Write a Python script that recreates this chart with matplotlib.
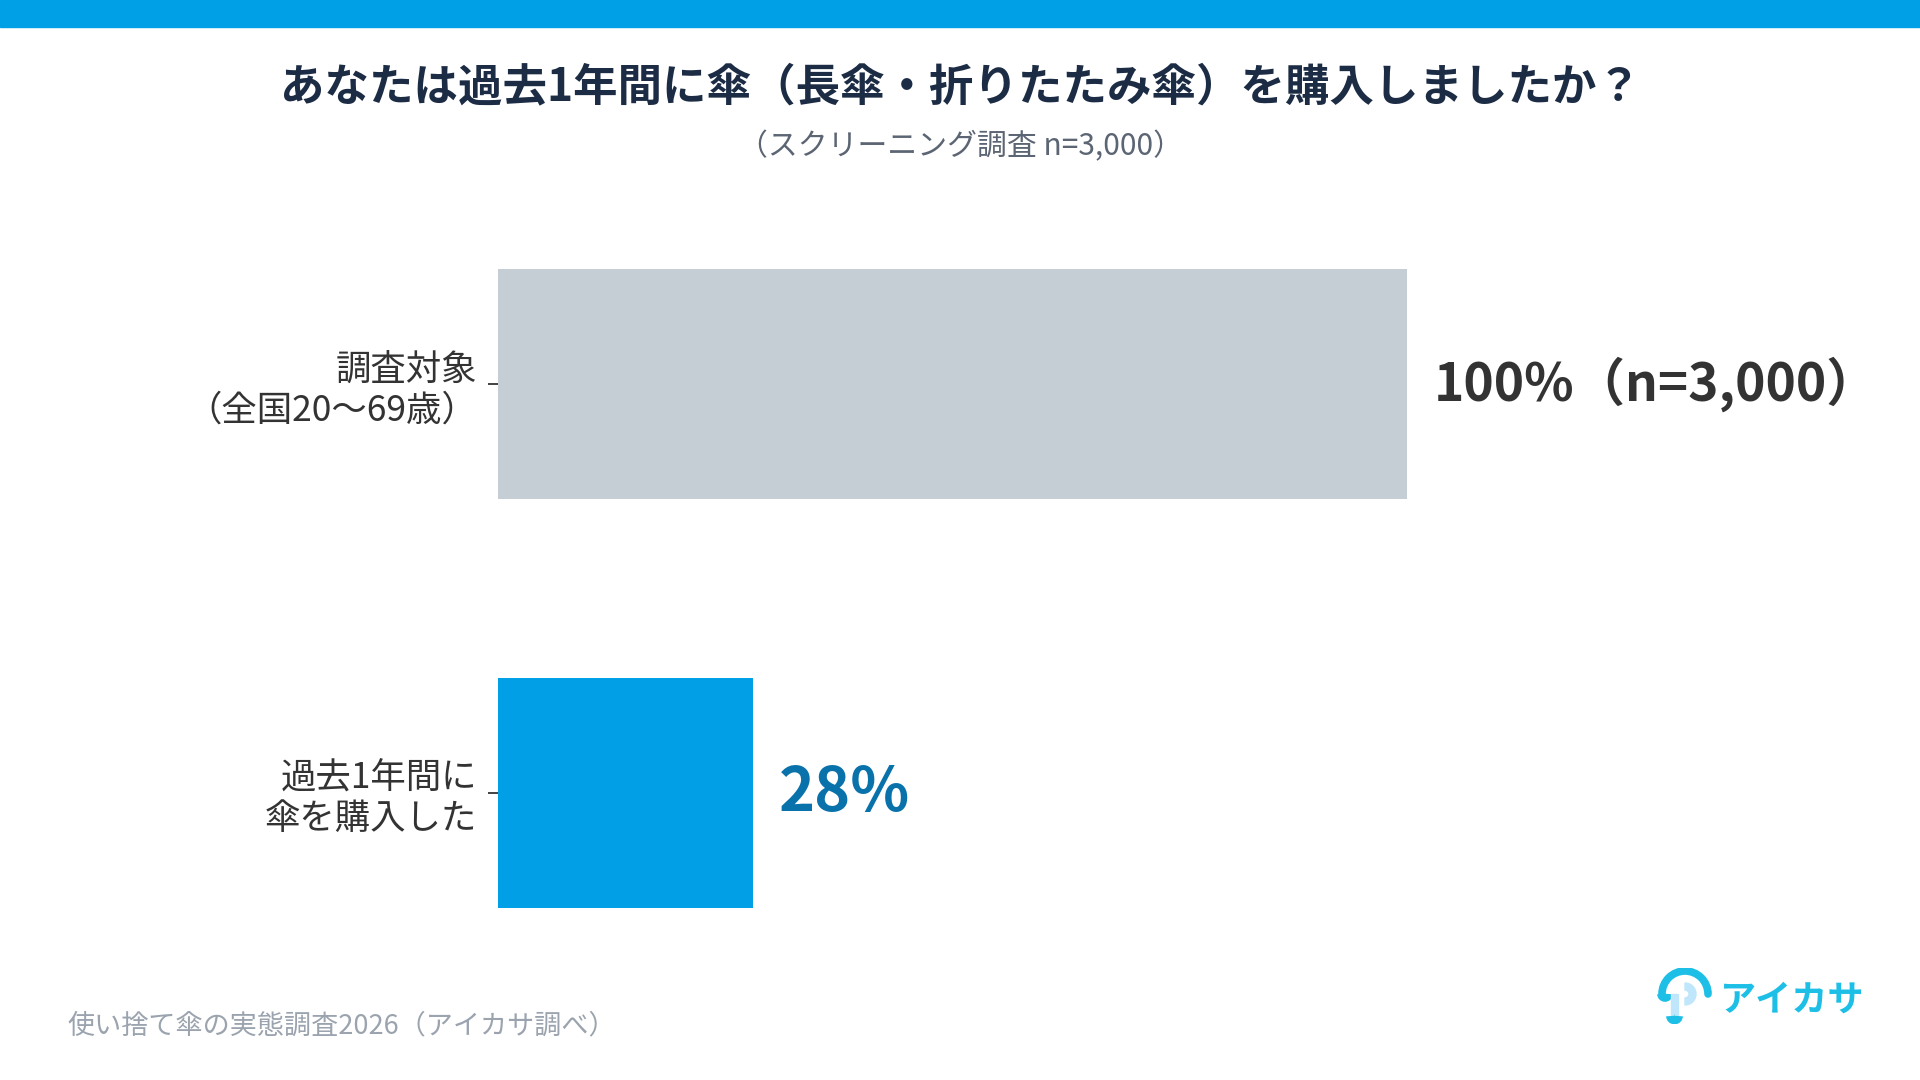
import matplotlib
matplotlib.use("Agg")
import matplotlib.pyplot as plt
from matplotlib.patches import Rectangle, Arc, Wedge
import numpy as np

plt.rcParams['font.family'] = ['Noto Sans CJK JP', 'DejaVu Sans']

# ---- data ----
categories = ["調査対象\n（全国20〜69歳）", "過去1年間に\n傘を購入した"]
values = [100, 28]
value_labels = ["100%（n=3,000）", "28%"]
bar_colors = ["#c5cdd5", "#009fe6"]
label_colors = ["#333333", "#0a72ab"]
label_sizes = [37, 44]
title = "あなたは過去1年間に傘（長傘・折りたたみ傘）を購入しましたか？"
subtitle = "（スクリーニング調査 n=3,000）"
footer = "使い捨て傘の実態調査2026（アイカサ調べ）"
logo_text = "アイカサ"

W, H = 1920, 1080
fig = plt.figure(figsize=(W / 100, H / 100), dpi=100)
fig.patch.set_facecolor("white")

# top band
fig.patches.append(Rectangle((0, 1 - 27 / H), 1, 27 / H, transform=fig.transFigure,
                             color="#00a0e6", zorder=0))

# title & subtitle
fig.text(0.5, 1 - 87 / H, title, ha="center", va="center", fontsize=32,
         fontweight="bold", color="#1c2c44")
fig.text(0.5, 1 - 147 / H, subtitle, ha="center", va="center", fontsize=21.5,
         color="#5c6573")

# main axes
left_px, right_px = 498, 1407
top_px, bot_px = 179.5, 997.5
ax = fig.add_axes([left_px / W, 1 - bot_px / H, (right_px - left_px) / W, (bot_px - top_px) / H])
y = np.arange(len(categories))
ax.barh(y, values, height=0.56, color=bar_colors)
ax.set_xlim(0, 100)
ax.set_ylim(len(categories) - 0.5, -0.5)
ax.set_yticks(y)
ax.set_yticklabels(categories, fontsize=25.5, color="#333333", linespacing=1.15)
ax.tick_params(axis="y", length=7, width=1.2, color="#222222", pad=8)
ax.set_xticks([])
for s in ax.spines.values():
    s.set_visible(False)

for i, (v, lab) in enumerate(zip(values, value_labels)):
    ax.annotate(lab, xy=(v, i), xytext=(19, 0), textcoords="offset points",
                ha="left", va="center", fontsize=label_sizes[i], fontweight="bold",
                color=label_colors[i])

# footer
fig.text(67 / W, 1 - 1026 / H, footer, ha="left", va="center", fontsize=19.5,
         color="#9aa3ae")

# logo
fig.text(1720 / W, 1 - 1000 / H, logo_text, ha="left", va="center", fontsize=26,
         fontweight="bold", color="#1ebfe6")
lax = fig.add_axes([1655 / W, 1 - 1024 / H, 60 / W, 56 / H])
lax.set_xlim(0, 60)
lax.set_ylim(0, 56)
lax.set_aspect("equal")
lax.axis("off")
lax.add_patch(Arc((30, 30), 46, 46, theta1=0, theta2=180, lw=5.5, color="#1ebfe6",
                  capstyle="round"))
lax.add_patch(Arc((10, 30), 8, 8, theta1=180, theta2=360, lw=5.5, color="#1ebfe6"))
lax.add_patch(Wedge((30, 30), 11, -90, 90, width=7, color="#bfe6fa"))
lax.add_patch(Rectangle((16, 8), 7, 22, color="#bfe6fa"))
lax.add_patch(Arc((19.5, 8), 7, 7, theta1=180, theta2=360, lw=7, color="#1ebfe6"))

fig.savefig("out.png", dpi=100, facecolor="white")
